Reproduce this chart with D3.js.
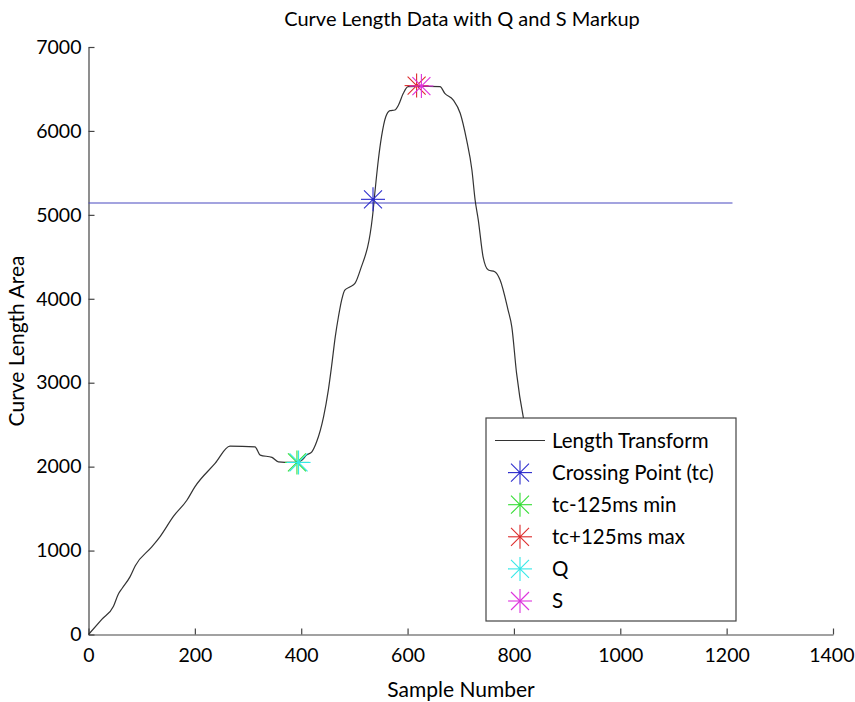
<!DOCTYPE html>
<html>
<head>
<meta charset="utf-8">
<script src="https://cdn.jsdelivr.net/npm/d3@7"></script>
<style>
  html, body { margin: 0; padding: 0; background: #fff; }
  svg text { font-family: Lato, "Open Sans", sans-serif; fill: #000; }
</style>
</head>
<body>
<svg id="chart" width="855" height="702"></svg>
<script>
// ---- data ----
const sampleNumbers = [0, 25, 47, 56, 63, 78, 88, 119, 135, 160, 185, 200, 238, 266, 313, 323, 345, 357, 382, 392, 401, 410, 420, 429, 442, 451, 457, 464, 470, 476, 482, 492, 501, 511, 534, 539, 545, 551, 559, 567, 576, 583, 592, 601, 620, 640, 661, 670, 686, 699, 711, 721, 727, 733, 742, 752, 764, 774, 789, 796, 805, 818, 835, 855];
const curveLength   = [0, 180, 337, 480, 548, 687, 820, 1044, 1170, 1410, 1600, 1759, 2038, 2244, 2236, 2137, 2110, 2057, 2050, 2057, 2077, 2137, 2177, 2296, 2594, 2912, 3190, 3547, 3786, 3985, 4104, 4143, 4183, 4342, 4977, 5296, 5653, 5931, 6169, 6241, 6249, 6309, 6448, 6527, 6530, 6530, 6527, 6448, 6368, 6210, 5892, 5534, 5177, 4938, 4500, 4342, 4322, 4223, 3865, 3666, 3111, 2574, 2200, 1800];

const thresholdValue = 5141;
const thresholdRange = [0, 1211];

const markerNames  = ["Crossing Point (tc)", "tc-125ms min", "tc+125ms max", "Q", "S"];
const markerX      = [535, 392, 617, 395, 626];
const markerY      = [5185, 2050, 6540, 2050, 6535];
const markerColors = ["#2a2acc", "#33dd33", "#dd2a2a", "#33e8e8", "#dd33dd"];

const xTicks = [0, 200, 400, 600, 800, 1000, 1200, 1400];
const yTicks = [0, 1000, 2000, 3000, 4000, 5000, 6000, 7000];

const titleText = "Curve Length Data with Q and S Markup";
const xLabel = "Sample Number";
const yLabel = "Curve Length Area";
const lineLegendName = "Length Transform";

// ---- layout ----
const svg = d3.select("#chart");
const pLeft = 88.5, pRight = 833, pTop = 47, pBottom = 634.5;
const x = d3.scaleLinear().domain([0, 1400]).range([pLeft, pRight]);
const y = d3.scaleLinear().domain([0, 7000]).range([pBottom, pTop]);
const axisColor = "#444";

// axes (left & bottom only, ticks pointing inward)
const xAxis = svg.append("g").attr("transform", `translate(0,${pBottom})`)
  .call(d3.axisBottom(x).tickValues(xTicks).tickSizeInner(-6).tickSizeOuter(0).tickPadding(14).tickFormat(d3.format("d")));
const yAxis = svg.append("g").attr("transform", `translate(${pLeft},0)`)
  .call(d3.axisLeft(y).tickValues(yTicks).tickSizeInner(-6).tickSizeOuter(0).tickPadding(7).tickFormat(d3.format("d")));
[xAxis, yAxis].forEach(g => {
  g.selectAll("path.domain").attr("stroke", axisColor).attr("stroke-width", 1.2);
  g.selectAll(".tick line").attr("stroke", axisColor).attr("stroke-width", 1.2);
  g.selectAll(".tick text").attr("font-size", 19.5).attr("font-family", "Lato, sans-serif").attr("fill", "#000");
});
xAxis.selectAll(".tick text").attr("dy", "0.71em");
// keep the last x label inside the page
xAxis.selectAll(".tick").filter(d => d === 1400).select("text")
  .attr("text-anchor", "end").attr("x", 21);

const plot = svg.append("g");

// threshold line
plot.append("line")
  .attr("x1", x(thresholdRange[0])).attr("x2", x(thresholdRange[1]))
  .attr("y1", y(thresholdValue)).attr("y2", y(thresholdValue))
  .attr("stroke", "#4848c0").attr("stroke-width", 1.2);

// curve
const pts = sampleNumbers.map((s, i) => [s, curveLength[i]]);
plot.append("path")
  .datum(pts)
  .attr("fill", "none")
  .attr("stroke", "#333")
  .attr("stroke-width", 1.2)
  .attr("d", d3.line().x(d => x(d[0])).y(d => y(d[1])).curve(d3.curveMonotoneX));

// asterisk marker
function asterisk(g, cx, cy, color) {
  const r = 12, dd = 9;
  const segs = [[-r, 0, r, 0], [0, -r, 0, r], [-dd, -dd, dd, dd], [-dd, dd, dd, -dd]];
  const m = g.append("g").attr("transform", `translate(${cx},${cy})`);
  m.selectAll("line").data(segs).join("line")
    .attr("x1", d => d[0]).attr("y1", d => d[1]).attr("x2", d => d[2]).attr("y2", d => d[3])
    .attr("stroke", color).attr("stroke-width", 1.1);
  m.append("circle").attr("r", 1.3).attr("fill", color);
}
markerNames.forEach((n, i) => asterisk(plot, x(markerX[i]), y(markerY[i]), markerColors[i]));

// legend
const lg = svg.append("g");
const lgX = 486, lgY = 418, lgW = 250, lgH = 203;
lg.append("rect").attr("x", lgX).attr("y", lgY).attr("width", lgW).attr("height", lgH)
  .attr("fill", "#fff").attr("stroke", "#444").attr("stroke-width", 1.2);
const rowY0 = 440.5, rowStep = 32.1;
lg.append("line").attr("x1", 495).attr("x2", 545).attr("y1", rowY0).attr("y2", rowY0)
  .attr("stroke", "#333").attr("stroke-width", 1.2);
lg.append("text").attr("x", 552).attr("y", rowY0).attr("dy", "0.35em").attr("font-size", 20.5).text(lineLegendName);
markerNames.forEach((n, i) => {
  const yy = rowY0 + rowStep * (i + 1);
  asterisk(lg, 520, yy, markerColors[i]);
  lg.append("text").attr("x", 552).attr("y", yy).attr("dy", "0.35em").attr("font-size", 20.5).text(n);
});

// titles
svg.append("text").attr("x", 462).attr("y", 26).attr("text-anchor", "middle").attr("font-size", 20).text(titleText);
svg.append("text").attr("x", 461).attr("y", 697).attr("text-anchor", "middle").attr("font-size", 21).text(xLabel);
svg.append("text").attr("transform", "translate(24,341) rotate(-90)").attr("text-anchor", "middle").attr("font-size", 21).text(yLabel);
</script>
</body>
</html>
